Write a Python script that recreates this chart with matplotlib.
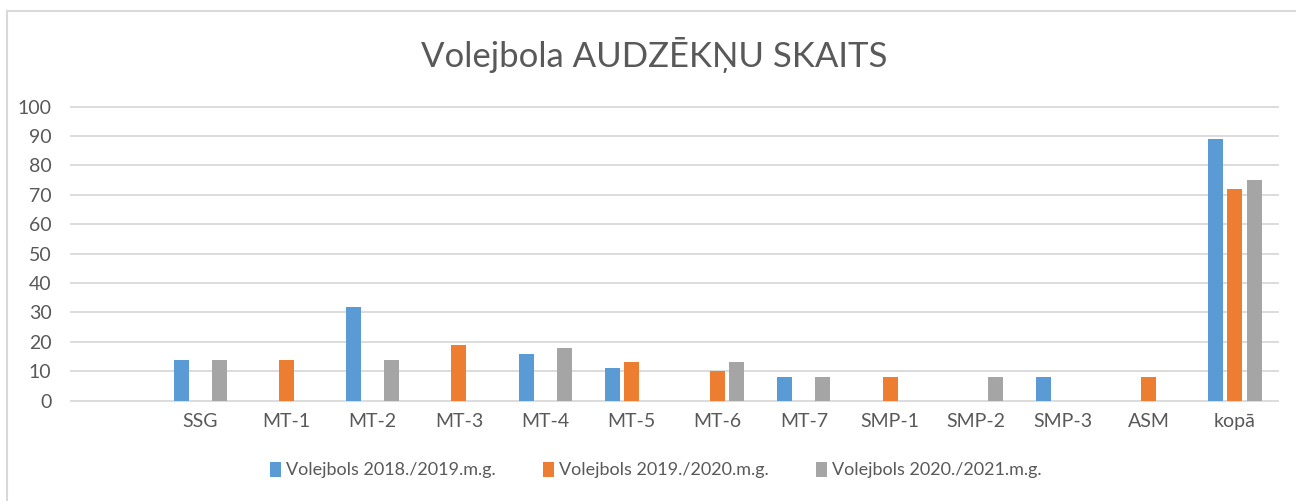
import matplotlib
matplotlib.use("Agg")
import matplotlib.pyplot as plt
from matplotlib.patches import Rectangle
import numpy as np

plt.rcParams['font.family'] = ['Lato', 'DejaVu Sans']

categories = ["", "SSG", "MT-1", "MT-2", "MT-3", "MT-4", "MT-5", "MT-6", "MT-7",
              "SMP-1", "SMP-2", "SMP-3", "ASM", "kopā"]
series_names = ["Volejbols 2018./2019.m.g.", "Volejbols 2019./2020.m.g.", "Volejbols 2020./2021.m.g."]
s2018 = [0, 14, 0, 32, 0, 16, 11, 0, 8, 0, 0, 8, 0, 89]
s2019 = [0, 0, 14, 0, 19, 0, 13, 10, 0, 8, 0, 0, 8, 72]
s2020 = [0, 14, 0, 14, 0, 18, 0, 13, 8, 0, 8, 0, 0, 75]
yticks = [0, 10, 20, 30, 40, 50, 60, 70, 80, 90, 100]
colors = ["#5B9BD5", "#ED7D31", "#A5A5A5"]

W, H = 1296, 501
fig = plt.figure(figsize=(W / 100, H / 100), dpi=100)
ax = fig.add_axes([71 / W, 1 - 400.7 / H, (1278 - 71) / W, (400.7 - 106.7) / H])

x = np.arange(len(categories))
step = 0.222
bw = 0.174
for i, (vals, name, c) in enumerate(zip([s2018, s2019, s2020], series_names, colors)):
    ax.bar(x + (i - 1) * step, vals, width=bw, color=c, label=name, zorder=3)

ax.set_xlim(-0.5, len(categories) - 0.5)
ax.set_ylim(0, 100)
ax.set_yticks(yticks)
ax.set_xticks(x)
ax.set_xticklabels(categories)
ax.tick_params(axis='both', length=0, labelsize=14, labelcolor="#595959")
ax.tick_params(axis='x', pad=9)
ax.tick_params(axis='y', pad=14)
ax.yaxis.grid(True, color="#D9D9D9", linewidth=1.3, zorder=0)
for l in ax.get_ygridlines():
    l.set_clip_on(False)
for s in ax.spines.values():
    s.set_visible(False)

fig.text(0.505, 1 - 55 / H, "Volejbola AUDZĒKŅU SKAITS", ha='center', va='center',
         fontsize=25, color="#595959")

fig.legend(loc='center', bbox_to_anchor=(0.506, 1 - 470 / H), ncol=3, frameon=False,
           fontsize=13, labelcolor="#595959", handlelength=0.6, handleheight=0.9,
           handletextpad=0.3, columnspacing=2.6)

fig.patches.append(Rectangle((7 / W, -0.1), 1.2, 1 - 11 / H + 0.1, transform=fig.transFigure,
                             fill=False, edgecolor="#D9D9D9", linewidth=1.5))

fig.savefig("out.png", dpi=100)
